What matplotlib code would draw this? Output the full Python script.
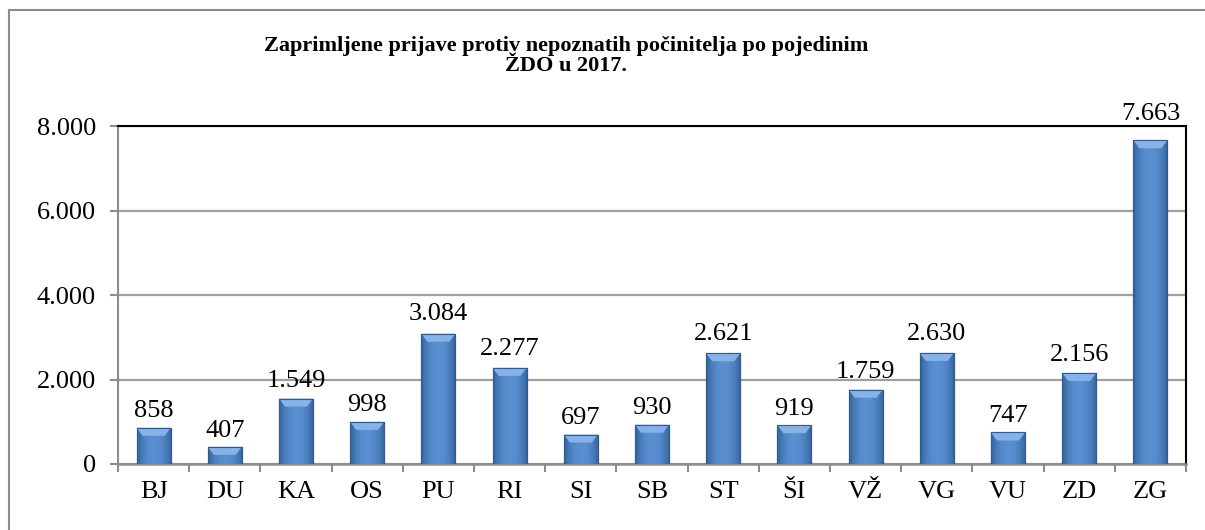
import matplotlib.pyplot as plt
from matplotlib.lines import Line2D
from matplotlib.patches import Polygon
import numpy as np

# data
regions = ["BJ", "DU", "KA", "OS", "PU", "RI", "SI", "SB", "ST", "ŠI", "VŽ", "VG", "VU", "ZD", "ZG"]
prijave = [858, 407, 1549, 998, 3084, 2277, 697, 930, 2621, 919, 1759, 2630, 747, 2156, 7663]
y_ticks = [0, 2000, 4000, 6000, 8000]


def fmt(v):
    # thousands separated by dot
    return "{:,}".format(v).replace(",", ".")


plt.rcParams['font.family'] = ['Liberation Serif', 'DejaVu Serif']

W, H = 1205, 530
fig = plt.figure(figsize=(W / 100, H / 100), dpi=100)
ax = fig.add_axes([118 / W, 1 - 464 / H, (1186 - 118) / W, (464 - 126) / H])

# outer frame (only top and left visible in the crop)
fig.add_artist(Line2D([9 / W, 9 / W], [0, 1 - 10 / H], transform=fig.transFigure,
                      color="#8c8c8c", linewidth=1.5))
fig.add_artist(Line2D([9 / W, 1], [1 - 10 / H, 1 - 10 / H], transform=fig.transFigure,
                      color="#8c8c8c", linewidth=1.5))

x = np.arange(len(regions))
bars = ax.bar(x, prijave, width=0.48, color="#4A7EBB", edgecolor="#2E5A8F",
              linewidth=0.8, zorder=3)

# horizontal shading: dark edges, lighter middle
grad = np.linspace(-1, 1, 64)
grad = 1 - np.abs(grad) ** 2
grad = grad[np.newaxis, :]
cmap = plt.matplotlib.colors.LinearSegmentedColormap.from_list("b", ["#33639D", "#5A90D2"])
bevel = 190
for b in bars:
    x0, w, h = b.get_x(), b.get_width(), b.get_height()
    im = ax.imshow(grad, extent=(x0, x0 + w, 0, h), aspect="auto", cmap=cmap,
                   interpolation="bicubic", zorder=3.5)
    im.set_clip_path(b)
    # lighter bevel on top
    ax.add_patch(Polygon([(x0, h), (x0 + w, h), (x0 + w * 0.82, h - bevel), (x0 + w * 0.18, h - bevel)],
                         closed=True, facecolor="#86B2E8", edgecolor="none", zorder=4))
    ax.add_patch(Polygon([(x0, h), (x0 + w, h), (x0 + w, 0), (x0, 0)], closed=True,
                         fill=False, edgecolor="#2E5A8F", linewidth=0.8, zorder=4.5))

# labels drift a bit higher on tall bars in the original
for xi, v in zip(x, prijave):
    ax.annotate(fmt(v), (xi, v), xytext=(0, 3 + v / 1000), textcoords="offset points",
                ha="center", va="bottom", fontsize=19, zorder=5, annotation_clip=False)

ax.set_xlim(-0.5, len(regions) - 0.5)
ax.set_ylim(0, 8000)
ax.set_yticks(y_ticks)
ax.set_yticklabels([fmt(t) for t in y_ticks], fontsize=19)
ax.set_xticks(x)
ax.set_xticklabels(regions, fontsize=19)
ax.set_xticks(np.arange(len(regions) + 1) - 0.5, minor=True)
ax.tick_params(axis="x", which="major", length=0, pad=12)
ax.tick_params(axis="x", which="minor", length=6, width=1.5, color="#8c8c8c")
ax.tick_params(axis="y", length=6, width=1.5, color="#8c8c8c", pad=10)

ax.grid(axis="y", color="#a0a0a0", linewidth=1.6, zorder=0)
ax.spines["left"].set_color("#8c8c8c")
ax.spines["bottom"].set_color("#8c8c8c")
ax.spines["left"].set_linewidth(1.5)
ax.spines["bottom"].set_linewidth(1.8)
ax.spines["top"].set_color("black")
ax.spines["right"].set_color("black")
ax.spines["top"].set_linewidth(1.5)
ax.spines["right"].set_linewidth(1.5)

fig.text(566 / W, 1 - 56 / H, "Zaprimljene prijave protiv nepoznatih počinitelja po pojedinim\nŽDO u 2017.",
         ha="center", va="center", fontsize=16, fontweight="bold", linespacing=1.05)

fig.savefig("out.png", dpi=100)
